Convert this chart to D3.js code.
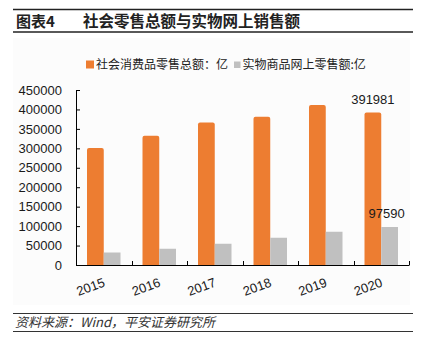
<!DOCTYPE html>
<html>
<head>
<meta charset="utf-8">
<script src="https://cdn.jsdelivr.net/npm/d3@7"></script>
<style>
  body { margin: 0; background: #fff; }
  text { font-family: "Liberation Sans", Arial, "Noto Sans CJK SC", sans-serif; }
  .cjk { font-family: "Noto Sans CJK SC", sans-serif; }
</style>
</head>
<body>
<div id="chart"></div>
<script>
const years = ["2015", "2016", "2017", "2018", "2019", "2020"];
const retailTotal = [300931, 332316, 366262, 380987, 411649, 391981];
const onlineGoods = [32424, 41944, 54806, 70198, 85239, 97590];
const seriesNames = ["社会消费品零售总额：亿", "实物商品网上零售额:亿"];
const yTicks = [0, 50000, 100000, 150000, 200000, 250000, 300000, 350000, 400000, 450000];

const W = 422, H = 351;
const colors = ["#ED7D31", "#C0C0C0"];

const svg = d3.select("#chart")
  .append("svg")
    .attr("width", W)
    .attr("height", H);

// header
svg.append("line").attr("x1", 13).attr("x2", 413).attr("y1", 9.5).attr("y2", 9.5)
  .attr("stroke", "#222").attr("stroke-width", 1.5);
svg.append("line").attr("x1", 13).attr("x2", 413).attr("y1", 32).attr("y2", 32)
  .attr("stroke", "#222").attr("stroke-width", 1.5);
svg.append("text").attr("class", "cjk")
  .attr("x", 16).attr("y", 27)
  .style("font-size", "15px").style("font-weight", "bold").attr("fill", "#222")
  .text("图表4");
svg.append("text").attr("class", "cjk")
  .attr("x", 83).attr("y", 27)
  .style("font-size", "15.5px").style("font-weight", "bold").attr("fill", "#222")
  .text("社会零售总额与实物网上销售额");

// chart panel
svg.append("rect").attr("x", 13).attr("y", 38).attr("width", 397).attr("height", 267)
  .attr("fill", "#fcfcfc");

// footer
svg.append("line").attr("x1", 13).attr("x2", 413).attr("y1", 313.5).attr("y2", 313.5)
  .attr("stroke", "#333").attr("stroke-width", 1);
svg.append("line").attr("x1", 13).attr("x2", 413).attr("y1", 331.5).attr("y2", 331.5)
  .attr("stroke", "#333").attr("stroke-width", 1);
svg.append("text").attr("class", "cjk")
  .attr("x", 15).attr("y", 327)
  .style("font-size", "13px").style("font-style", "italic").attr("fill", "#333")
  .text("资料来源：Wind，平安证券研究所");

// legend
const legend = svg.append("g");
legend.append("rect").attr("x", 86).attr("y", 60.5).attr("width", 8).attr("height", 8)
  .attr("fill", colors[0]);
legend.append("text").attr("class", "cjk").attr("x", 96).attr("y", 68.5)
  .style("font-size", "12px").attr("fill", "#222").text(seriesNames[0]);
legend.append("rect").attr("x", 234).attr("y", 61.5).attr("width", 6.5).attr("height", 6.5)
  .attr("fill", colors[1]);
legend.append("text").attr("class", "cjk").attr("x", 242.5).attr("y", 68.5)
  .style("font-size", "12px").attr("fill", "#222").text(seriesNames[1]);

// scales
const x0 = d3.scaleBand().domain(years).range([76, 409]);
const x1 = d3.scaleBand().domain([0, 1]).range([11, x0.step() - 11]);
const y = d3.scaleLinear().domain([0, 450000]).range([265, 90]);

// y axis
const yAxis = svg.append("g")
  .attr("transform", "translate(76,0)")
  .call(d3.axisLeft(y).tickValues(yTicks).tickFormat(d3.format("d"))
    .tickSize(-4).tickPadding(14).tickSizeOuter(0));
yAxis.selectAll("text").style("font-size", "13px").attr("fill", "#1a1a1a");
yAxis.selectAll(".domain, .tick line").attr("stroke", "#000");

// bars
const rows = years.map((yr, i) => ({year: yr, vals: [retailTotal[i], onlineGoods[i]]}));
const groups = svg.selectAll(".grp")
  .data(rows)
  .enter().append("g")
    .attr("transform", d => "translate(" + x0(d.year) + ",0)");
groups.selectAll("rect")
  .data(d => d.vals.map((v, k) => ({k: k, v: v})))
  .enter().append("path")
    .attr("fill", d => colors[d.k])
    .attr("d", d => {
      const bx = x1(d.k), bw = x1.bandwidth(), top = y(d.v), bot = y(0);
      const r = d.k === 0 ? 2 : 0;
      return "M" + bx + "," + bot + "V" + (top + r) +
        "Q" + bx + "," + top + " " + (bx + r) + "," + top +
        "H" + (bx + bw - r) +
        "Q" + (bx + bw) + "," + top + " " + (bx + bw) + "," + (top + r) +
        "V" + bot + "Z";
    });

// value labels for the last year
const last = years.length - 1;
svg.append("text")
  .attr("x", x0(years[last]) + x1(0) + x1.bandwidth() / 2)
  .attr("y", y(retailTotal[last]) - 9)
  .attr("text-anchor", "middle")
  .style("font-size", "13px").attr("fill", "#1a1a1a")
  .text(retailTotal[last]);
svg.append("text")
  .attr("x", x0(years[last]) + x1(1) + x1.bandwidth() / 2 - 3)
  .attr("y", y(onlineGoods[last]) - 9.5)
  .attr("text-anchor", "middle")
  .style("font-size", "13px").attr("fill", "#1a1a1a")
  .text(onlineGoods[last]);

// x axis
const xAxis = svg.append("g");
xAxis.append("line")
  .attr("x1", 76).attr("x2", 409).attr("y1", y(0) + 0.5).attr("y2", y(0) + 0.5)
  .attr("stroke", "#000");
xAxis.selectAll(".xt")
  .data(years.concat(["end"]))
  .enter().append("line")
    .attr("x1", (d, i) => Math.round(76 + i * x0.step()) + 0.5)
    .attr("x2", (d, i) => Math.round(76 + i * x0.step()) + 0.5)
    .attr("y1", y(0) + 0.5).attr("y2", y(0) - 4)
    .attr("stroke", "#000");
xAxis.selectAll(".xl")
  .data(years)
  .enter().append("text")
    .attr("transform", d => "translate(" + (x0(d) + x0.bandwidth() / 2 + 2) + "," + 286 + ") rotate(-20)")
    .attr("text-anchor", "end")
    .style("font-size", "13px").attr("fill", "#1a1a1a")
    .text(d => d);
</script>
</body>
</html>
